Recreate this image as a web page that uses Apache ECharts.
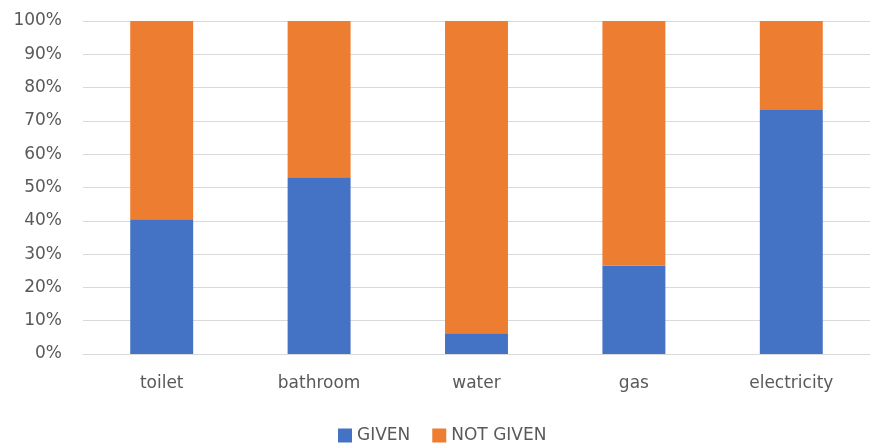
<!DOCTYPE html>
<html>
<head>
<meta charset="utf-8">
<script src="https://cdn.jsdelivr.net/npm/echarts@6/dist/echarts.min.js"></script>
<style>
    html, body { margin: 0; padding: 0; background: #fff; }
    #chart { width: 882px; height: 443px; }
</style>
</head>
<body>
<div id="chart"></div>
<script>
    // categories and percentages
    var categories = ['toilet', 'bathroom', 'water', 'gas', 'electricity'];
    var givenData = [40.5, 53.1, 6.2, 26.5, 73.3];
    var notGivenData = [59.5, 46.9, 93.8, 73.5, 26.7];
    var seriesNames = ['GIVEN', 'NOT GIVEN'];

    var labelColor = '#595959';
    var font = '"DejaVu Sans", sans-serif';

    var myChart = echarts.init(document.getElementById('chart'));
    var option = {
        animation: false,
        color: ['#4472C4', '#ED7D31'],
        grid: { left: 83, right: 12, top: 21, bottom: 89 },
        legend: {
            data: seriesNames,
            left: 333,
            top: 422,
            itemWidth: 14,
            itemHeight: 14,
            itemGap: 22,
            icon: 'rect',
            textStyle: { color: labelColor, fontSize: 17, fontFamily: font }
        },
        xAxis: {
            type: 'category',
            data: categories,
            axisLine: { lineStyle: { color: '#D9D9D9' } },
            axisTick: { show: false },
            axisLabel: { color: labelColor, fontSize: 17, fontFamily: font, margin: 21 }
        },
        yAxis: {
            type: 'value',
            min: 0,
            max: 100,
            interval: 10,
            axisLine: { show: false },
            axisTick: { show: false },
            splitLine: { lineStyle: { color: '#D9D9D9' } },
            axisLabel: {
                color: labelColor, fontSize: 17, fontFamily: font, margin: 21,
                formatter: '{value}%'
            }
        },
        series: [
            { name: seriesNames[0], type: 'bar', stack: 'all', barWidth: '40%', data: givenData },
            { name: seriesNames[1], type: 'bar', stack: 'all', barWidth: '40%', data: notGivenData }
        ]
    };
    myChart.setOption(option);
</script>
</body>
</html>
